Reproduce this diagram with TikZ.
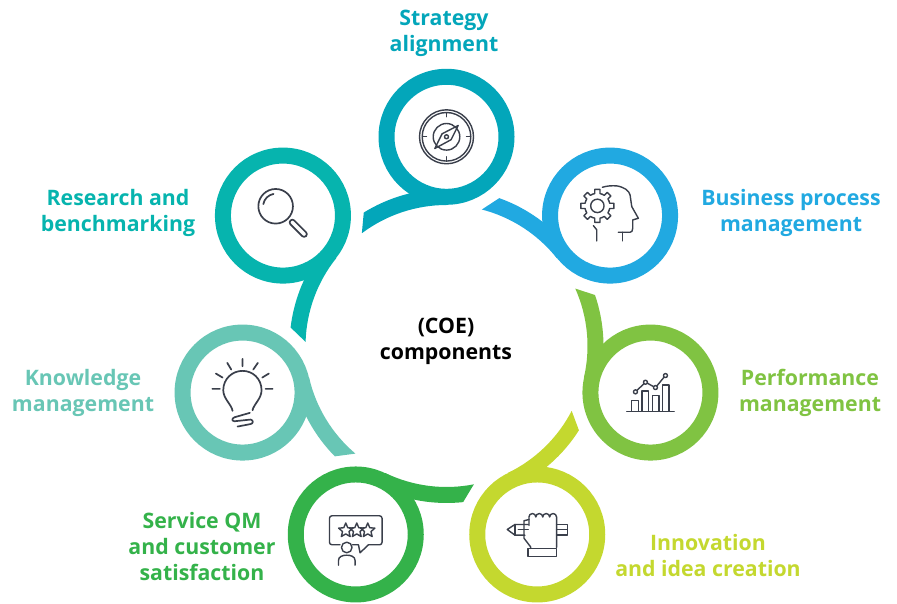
\documentclass[tikz,border=0pt]{standalone}
\usepackage{fontspec}
\setmainfont{Open Sans}
\usepackage{xcolor}
\usetikzlibrary{calc,shapes.geometric}

\definecolor{strategycol}{HTML}{03A6BA}
\definecolor{processcol}{HTML}{21A9E1}
\definecolor{performcol}{HTML}{80C342}
\definecolor{innovcol}{HTML}{C4D82F}
\definecolor{servicecol}{HTML}{34B24A}
\definecolor{knowcol}{HTML}{68C6B5}
\definecolor{researchcol}{HTML}{06B4AE}
\definecolor{inkcol}{HTML}{3A3F4B}

% band that runs clockwise along the hub into a ring: colour, angle of the ring
\newcommand{\petal}[2]{\fill[#1] ($(hub)+(#2+36.9:141)$) arc[start angle=#2+36.9, delta angle=-36.9, radius=141]
    -- ($(hub)+(#2:157)$) arc[start angle=#2, delta angle=31.8, radius=157] -- cycle;}

\begin{document}
\begin{tikzpicture}[
    x=1pt, y=1pt,
    ring/.style={circle, draw=#1, fill=white, line width=16pt, minimum size=120pt, inner sep=0pt},
    caption/.style={align=center, inner sep=0pt, text=#1, font=\bfseries\fontsize{21.3}{26}\selectfont},
    icon/.style={draw=inkcol, line width=1.4pt, line cap=round, line join=round},
]
    \useasboundingbox (0,0) rectangle (897,603);
    \coordinate (hub) at (446.5,257);

    \petal{strategycol}{90}
    \petal{processcol}{38.57}
    \petal{performcol}{-12.86}
    \petal{innovcol}{-64.29}
    \petal{servicecol}{-115.71}
    \petal{knowcol}{-167.14}
    \petal{researchcol}{141.43}

    \node[ring=strategycol] (strategy) at ($(hub)+(90:209.2)$) {};
    \node[ring=processcol] (process) at ($(hub)+(38.57:209.2)$) {};
    \node[ring=performcol] (perform) at ($(hub)+(-12.86:209.2)$) {};
    \node[ring=innovcol] (innov) at ($(hub)+(-64.29:209.2)$) {};
    \node[ring=servicecol] (service) at ($(hub)+(-115.71:209.2)$) {};
    \node[ring=knowcol] (know) at ($(hub)+(-167.14:209.2)$) {};
    \node[ring=researchcol] (research) at ($(hub)+(141.43:209.2)$) {};

    \node[caption=black] (hubtext) at (446,262) {(COE)\\components};
    \node[caption=strategycol] (strategytext) at (444,570) {Strategy\\alignment};
    \node[caption=processcol] (processtext) at (791,390) {Business process\\management};
    \node[caption=performcol] (performtext) at (810,210) {Performance\\management};
    \node[caption=innovcol] (innovtext) at (708,47.5) {Innovation\\and idea creation};
    \node[caption=servicecol] (servicetext) at (202,56) {Service QM\\and customer\\satisfaction};
    \node[caption=knowcol] (knowtext) at (83,210) {Knowledge\\management};
    \node[caption=researchcol] (researchtext) at (118,390) {Research and\\benchmarking};

    % compass
    \begin{scope}[shift={(strategy)}]
        \draw[icon] (0,0) circle (27) (0,0) circle (24.3) (0,0) circle (13.3) (0,0) circle (2);
        \draw[icon] (0,24) -- (0,20) (0,-24) -- (0,-20) (24,0) -- (20,0) (-24,0) -- (-20,0);
        \draw[icon] (11.7,11.3) -- (4.6,-2.9) -- (-11.7,-11.7) -- (-4.4,3) -- cycle;
    \end{scope}

    % head with gear
    \begin{scope}[shift={(process)}]
        \draw[icon] (-7.7,28.3) .. controls (-3,29.8) and (2,30) .. (6.7,29.7)
            .. controls (14,28.5) and (19,25) .. (20,20.7) -- (21.7,9) -- (28.3,-2.7) -- (22.7,-4.3)
            -- (22.7,-12.7) .. controls (22.7,-15.5) and (21.5,-16.7) .. (20,-16.7) -- (8.3,-16.7);
        \draw[icon] (12.7,-16.7) -- (12.7,-25.3);
        \draw[icon] (-16.7,-10) -- (-13.3,-14.3) -- (-13.3,-25.3);
        \begin{scope}[shift={(-12.7,9.7)}]
            \draw[icon] (0,0) circle (6.7);
            \foreach \a in {0,45,...,315} {
                \draw[icon] (\a-22.5:12.6) -- (\a-12:12.6) -- (\a-9:16.7) -- (\a+9:16.7) -- (\a+12:12.6) -- (\a+22.5:12.6);
            }
        \end{scope}
    \end{scope}

    % bars and trend line
    \begin{scope}[shift={(perform)}]
        \draw[icon] (-23.7,-18.7) -- (23.7,-18.7);
        \draw[icon] (-18.7,-18.7) -- (-18.7,-8) -- (-12,-8) -- (-12,-18.7);
        \draw[icon] (-8.3,-18.7) -- (-8.3,1.7) -- (-1.7,1.7) -- (-1.7,-18.7);
        \draw[icon] (2,-18.7) -- (2,-2.7) -- (8.7,-2.7) -- (8.7,-18.7);
        \draw[icon] (12,-18.7) -- (12,7.7) -- (18.7,7.7) -- (18.7,-18.7);
        \draw[icon] (-15,0.7) circle (2) (-5,10.3) circle (2) (5,5) circle (2) (15,17) circle (2);
        \draw[icon] (-13.6,2.1) -- (-6.4,8.9) (-3.2,9.4) -- (3.2,5.9) (6.3,6.5) -- (13.7,15.5);
    \end{scope}

    % fist holding a pencil
    \begin{scope}[shift={(innov)}]
        \draw[icon] (-9,10) -- (-22.3,10) -- (-30,5) -- (-22.3,-0.7) -- (-12.3,-0.7);
        \draw[icon] (-22.3,10) -- (-22.3,-0.7) (-19,5) -- (-9,5);
        \draw[icon] (19.3,10) -- (30,10) -- (30,-0.7) -- (19.3,-0.7) (19.3,5) -- (30,5);
        \draw[icon] (-8.3,9) -- (-8.3,17.5) arc[start angle=180, end angle=0, radius=3.45]
            arc[start angle=180, end angle=0, radius=3.45] arc[start angle=180, end angle=0, radius=3.45]
            arc[start angle=180, end angle=0, radius=3.45] -- (19.3,-13);
        \draw[icon] (-8.3,15) -- (-13.3,13.7) -- (-13.3,-3.7) -- (-6.7,-12.3) -- (-6.7,-14);
        \draw[icon] (-9.3,-14) rectangle (19.3,-22.3);
    \end{scope}

    % person and rating bubble
    \begin{scope}[shift={(service)}]
        \draw[icon, rounded corners=2.5pt] (-15.7,-10.3) -- (-26.3,-10.3) -- (-26.3,18.7) -- (26.3,18.7) -- (26.3,-10.3) -- (12.7,-10.3);
        \draw[icon] (12.7,-10.3) -- (4.3,-18.3) -- (2.7,-10.3) -- (-3.3,-10.3);
        \node[star, star points=5, star point ratio=2.2, icon, minimum size=15pt, inner sep=0pt] (stara) at (-10,4) {};
        \node[star, star points=5, star point ratio=2.2, icon, minimum size=15pt, inner sep=0pt] (starb) at (1,4) {};
        \node[star, star points=5, star point ratio=2.2, icon, minimum size=15pt, inner sep=0pt] (starc) at (12,4) {};
        \draw[icon] (-9,-13) circle (5.3);
        \draw[icon] (-17.3,-30.7) -- (-17.3,-26) .. controls (-17.3,-22) and (-13,-20.7) .. (-9,-20.7)
            .. controls (-5,-20.7) and (-0.7,-22) .. (-0.7,-26) -- (-0.7,-30.7);
    \end{scope}

    % light bulb
    \begin{scope}[shift={(know)}]
        \draw[icon, line width=1.7pt] (-10,-18.3) .. controls (-11,-12) and (-19.3,-6) .. (-19.3,2.3)
            .. controls (-19.3,14) and (-10,21.7) .. (0,21.7) .. controls (10,21.7) and (19,14) .. (19,2.3)
            .. controls (19,-6) and (11,-12) .. (10,-17.7);
        \draw[icon, line width=1.7pt] (-30.3,3.7) -- (-22.7,3.7) (-26.7,19) -- (-20,15) (-15.3,29.7) -- (-11.3,23)
            (0,33.7) -- (0,26.3) (15.3,29.7) -- (10.7,23) (26.3,19) -- (19.7,15) (23,3.7) -- (30,3.7);
        \draw[icon, line width=1.7pt] (7.3,-20.3) -- (-8,-24.7) .. controls (-11,-26) and (-11,-28.5) .. (-8,-28.7)
            -- (8,-27) .. controls (11,-27.5) and (11,-31) .. (8,-31.5) -- (-5,-34);
    \end{scope}

    % magnifier
    \begin{scope}[shift={(research)}]
        \draw[icon, line width=1.7pt] (-7.3,9.3) circle (17.3);
        \draw[icon, line width=1.7pt] ($(-7.3,9.3)+(100:12.5)$) arc[start angle=100, end angle=170, radius=12.5];
        \draw[icon, line width=1.7pt, rounded corners=2.6pt, shift={(15.3,-12.7)}, rotate=-45] (-11,-2.7) rectangle (11,2.7);
    \end{scope}
\end{tikzpicture}
\end{document}
